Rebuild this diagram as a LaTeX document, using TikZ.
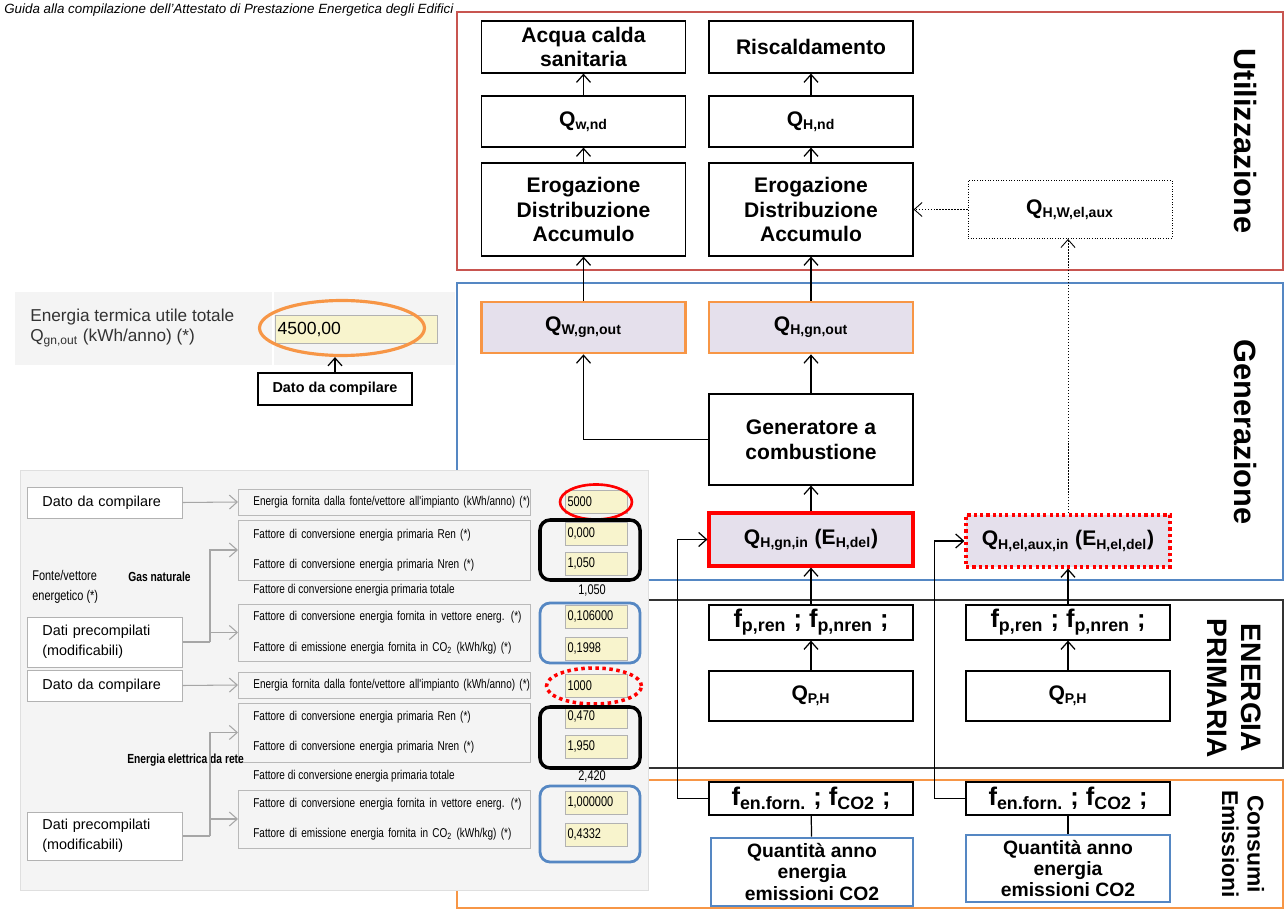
\documentclass[tikz,border=0pt]{standalone}
\usepackage{fontspec}
\setmainfont{Liberation Sans}
\newfontfamily\narrowfont[FakeStretch=0.78]{Liberation Sans}
\usetikzlibrary{arrows.meta,shapes.geometric}
\definecolor{rossoutil}{RGB}{200,85,80}
\definecolor{bluegen}{RGB}{85,135,195}
\definecolor{arancio}{RGB}{247,150,70}
\definecolor{lavanda}{RGB}{229,224,236}
\definecolor{giallino}{RGB}{248,244,205}
\definecolor{fondo}{RGB}{244,244,244}
\tikzstyle{blocco} = [draw=black, line width=0.7pt, fill=white, align=center, inner sep=1pt, minimum width=4.08cm, font=\bfseries\fontsize{12}{14}\selectfont]
\tikzstyle{viola} = [blocco, fill=lavanda]
\tikzstyle{uscita} = [viola, draw=arancio, line width=1.6pt]
\tikzstyle{ingresso} = [viola, draw=red, line width=1.8pt]
\tikzstyle{ingressoaux} = [viola, draw=red, line width=1.8pt, dash pattern=on 1.8pt off 1.8pt]
\tikzstyle{ausiliario} = [blocco, line width=0.5pt, densely dotted]
\tikzstyle{fattore} = [blocco, font=\bfseries\fontsize{14.5}{16}\selectfont]
\tikzstyle{primaria} = [blocco, line width=1.6pt]
\tikzstyle{quantita} = [blocco, draw=bluegen, line width=1.6pt, font=\bfseries\fontsize{11}{12.2}\selectfont]
\tikzstyle{freccia} = [-{Straight Barb[length=4.5pt,width=8pt]}, line width=0.7pt]
\tikzstyle{grigio} = [-{Straight Barb[length=4.5pt,width=8pt]}, draw=gray!70, line width=0.6pt]
\tikzstyle{campo} = [draw=gray!55, fill=fondo, anchor=west, align=left, inner xsep=0.3cm, inner ysep=0pt, text width=5.24cm, font=\narrowfont\fontsize{7.3}{17}\selectfont]
\tikzstyle{valore} = [draw=gray!60, fill=giallino, align=left, text width=1.14cm, inner xsep=0.05cm, inner ysep=0pt, minimum height=0.46cm, font=\narrowfont\fontsize{8}{9}\selectfont]
\tikzstyle{dato} = [draw=gray!60, fill=white, anchor=west, align=left, text width=2.5cm, inner xsep=0.3cm, inner ysep=0pt, font=\fontsize{8.2}{11.5}\selectfont]
\tikzstyle{testino} = [anchor=west, inner sep=0pt, font=\narrowfont\fontsize{7.3}{9}\selectfont]

\begin{document}
\begin{tikzpicture}[x=0.02cm, y=-0.02cm]
            \useasboundingbox (0,0) rectangle (1285,911);

            \draw[rossoutil, line width=1.1pt] (457,12) rectangle (1283,270);
            \draw[bluegen, line width=1.1pt] (457,283) rectangle (1283,580);
            \draw[black!80, line width=1.1pt] (457,600) rectangle (1283,768);
            \draw[arancio, line width=1.1pt] (457,780) rectangle (1283,908);

            \node (titolo) at(4,10) [anchor=west, inner sep=0pt, font=\itshape\fontsize{7.6}{9}\selectfont] {Guida alla compilazione dell'Attestato di Prestazione Energetica degli Edifici};

            \node (utilizzazione) at(1245,141) [rotate=-90, font=\bfseries\fontsize{17.5}{20}\selectfont] {Utilizzazione};
            \node (generazione) at(1245,432) [rotate=-90, font=\bfseries\fontsize{17.5}{20}\selectfont] {Generazione};
            \node (primaria) at(1234,688) [rotate=-90, align=center, font=\bfseries\fontsize{16}{19.5}\selectfont] {ENERGIA\\PRIMARIA};
            \node (consumi) at(1243,844) [rotate=-90, align=center, font=\bfseries\fontsize{13}{14.5}\selectfont] {Consumi\\Emissioni};

            \node (acqua) at(583.5,47) [blocco, minimum height=1.04cm] {Acqua calda\\sanitaria};
            \node (riscald) at(811,47) [blocco, minimum height=1.04cm] {Riscaldamento};
            \node (qwnd) at(583.5,121.5) [blocco, minimum height=1.02cm] {Q\textsubscript{w,nd}};
            \node (qhnd) at(811,121.5) [blocco, minimum height=1.02cm] {Q\textsubscript{H,nd}};
            \node (erogA) at(583.5,209.5) [blocco, minimum height=1.86cm] {Erogazione\\Distribuzione\\Accumulo};
            \node (erogB) at(811,209.5) [blocco, minimum height=1.86cm] {Erogazione\\Distribuzione\\Accumulo};
            \node (aux) at(1070,209.5) [ausiliario, minimum height=1.16cm] {Q\textsubscript{H,W,el,aux}};
            \node (qwout) at(583.5,327.5) [uscita, minimum height=1.02cm] {Q\textsubscript{W,gn,out}};
            \node (qhout) at(811,327.5) [uscita, minimum height=1.02cm] {Q\textsubscript{H,gn,out}};
            \node (gener) at(811,439.5) [blocco, minimum height=1.82cm] {Generatore a\\combustione};
            \node (qhin) at(811,539.5) [ingresso, minimum height=1.06cm] {Q\textsubscript{H,gn,in} (E\textsubscript{H,del})};
            \node (qhelin) at(1068,541) [ingressoaux, minimum height=1.04cm] {Q\textsubscript{H,el,aux,in} (E\textsubscript{H,el,del})};
            \node (fp1) at(811,622.5) [fattore, minimum height=0.7cm] {f\textsubscript{p,ren} ; f\textsubscript{p,nren} ;};
            \node (fp2) at(1068,622.5) [fattore, minimum height=0.7cm] {f\textsubscript{p,ren} ; f\textsubscript{p,nren} ;};
            \node (qph1) at(811,696) [primaria, minimum height=1cm] {Q\textsubscript{P,H}};
            \node (qph2) at(1068,696) [primaria, minimum height=1cm] {Q\textsubscript{P,H}};
            \node (fen1) at(811,798.5) [fattore, minimum height=0.66cm] {f\textsubscript{en.forn.} ; f\textsubscript{CO2} ;};
            \node (fen2) at(1068,798.5) [fattore, minimum height=0.66cm] {f\textsubscript{en.forn.} ; f\textsubscript{CO2} ;};
            \node (quant1) at(812,872) [quantita, minimum width=4.04cm, minimum height=1.36cm] {Quantità anno\\energia\\emissioni CO2};
            \node (quant2) at(1068,868.5) [quantita, minimum height=1.34cm] {Quantità anno\\energia\\emissioni CO2};

            \path 	(qwnd) edge[freccia] (acqua)
            		(qhnd) edge[freccia] (riscald)
            		(erogA) edge[freccia] (qwnd)
            		(erogB) edge[freccia] (qhnd)
            		(qwout) edge[freccia] (erogA)
            		(qhout) edge[freccia] (erogB)
            		(gener) edge[freccia] (qhout)
            		(qhin) edge[freccia] (gener)
            		(fp1) edge[freccia] (qhin)
            		(fp2) edge[freccia] (qhelin)
            		(qph1) edge[freccia] (fp1)
            		(qph2) edge[freccia] (fp2)
            		(quant1) edge[line width=0.7pt] (fen1)
            		(quant2) edge[line width=0.7pt] (fen2)
            		(aux) edge[freccia, densely dotted, line width=0.5pt] (erogB);
            \draw[freccia] (gener.west) -| (qwout.south);
            \draw[freccia, densely dotted, line width=0.5pt] (qhelin.north) -- (qhelin.north |- aux.south);
            \draw[freccia] (fen1.west) -- ++(-31,0) |- (qhin.west);
            \draw[freccia] (fen2.west) -- ++(-31,0) |- (qhelin.west);

            \fill[fondo] (15,292) rectangle (455,365);
            \draw[white, line width=1pt] (273,292) -- (273,365);
            \node (etichetta) at(30,328) [anchor=west, align=left, inner sep=0pt, text=black!80, font=\fontsize{9.8}{11.4}\selectfont] {Energia termica utile totale\\Q\textsubscript{gn,out} (kWh/anno) (*)};
            \node (campoQ) at(356,329) [valore, text width=3.14cm, minimum height=0.56cm, font=\fontsize{10}{12}\selectfont] {4500,00};
            \node (ovale) at(342,328) [ellipse, draw=arancio, line width=1.8pt, minimum width=3.3cm, minimum height=1.1cm] {};
            \node (datoQ) at(335,389) [draw, line width=0.7pt, minimum width=3.08cm, minimum height=0.64cm, font=\bfseries\fontsize{8.2}{10}\selectfont] {Dato da compilare};
            \draw[freccia] (datoQ.north) -- (datoQ.north |- ovale.south);

            \draw[gray!25, fill=fondo] (20,470) rectangle (648,890);

            \node (dato1) at(27,502.5) [dato, minimum height=0.62cm] {Dato da compilare};
            \node (campo1) at(238,502) [campo, minimum height=0.52cm] {\mbox{Energia fornita dalla fonte/vettore all'impianto (kWh/anno) (*)}};
            \node (val1) at(596,502) [valore] {5000};
            \node (ovale1) at(596,502) [ellipse, draw=red, line width=1.5pt, minimum width=1.44cm, minimum height=0.7cm] {};
            \node (gruppo1) at(238,550) [campo, minimum height=1.2cm] {\mbox{Fattore di conversione energia primaria Ren (*)}\\\mbox{Fattore di conversione energia primaria Nren (*)}};
            \node (val2) at(596,533.5) [valore] {0,000};
            \node (val3) at(596,563.5) [valore] {1,050};
            \draw[black, line width=2pt, rounded corners=0.2cm] (540,520) rectangle (640,580);
            \node (totale1) at(253,590) [testino] {Fattore di conversione energia primaria totale};
            \node (valtot1) at(578,590) [testino, font=\narrowfont\fontsize{8}{9}\selectfont] {1,050};
            \node (gruppo2) at(238,632.5) [campo, minimum height=1.14cm, font=\narrowfont\fontsize{7.3}{18}\selectfont] {\mbox{Fattore di conversione energia fornita in vettore energ. (*)}\\\mbox{Fattore di emissione energia fornita in CO\textsubscript{2} (kWh/kg) (*)}};
            \node (val4) at(596,616.5) [valore] {0,106000};
            \node (val5) at(596,648.5) [valore] {0,1998};
            \draw[bluegen, line width=1.6pt, rounded corners=0.2cm] (540,603) rectangle (640,663);
            \node (prec1) at(27,642) [dato, minimum height=1cm] {Dati precompilati\\(modificabili)};
            \node (fonte) at(32,587) [testino, align=left, font=\narrowfont\fontsize{8}{11.5}\selectfont] {Fonte/vettore\\energetico (*)};
            \node (gas) at(128,577) [testino, font=\narrowfont\bfseries\fontsize{7.5}{9}\selectfont] {Gas naturale};

            \node (dato2) at(27,685.5) [dato, minimum height=0.62cm] {Dato da compilare};
            \node (campo2) at(238,685) [campo, minimum height=0.52cm] {\mbox{Energia fornita dalla fonte/vettore all'impianto (kWh/anno) (*)}};
            \node (val6) at(596,685.5) [valore] {1000};
            \node (ovale2) at(594,686) [ellipse, draw=red, line width=2pt, dotted, minimum width=1.9cm, minimum height=0.72cm] {};
            \node (gruppo3) at(238,732.5) [campo, minimum height=1.18cm] {\mbox{Fattore di conversione energia primaria Ren (*)}\\\mbox{Fattore di conversione energia primaria Nren (*)}};
            \node (val7) at(596,716.5) [valore] {0,470};
            \node (val8) at(596,746.5) [valore] {1,950};
            \draw[black, line width=2pt, rounded corners=0.2cm] (540,707) rectangle (640,768);
            \node (totale2) at(253,776) [testino] {Fattore di conversione energia primaria totale};
            \node (valtot2) at(578,776) [testino, font=\narrowfont\fontsize{8}{9}\selectfont] {2,420};
            \node (gruppo4) at(238,819) [campo, minimum height=1.16cm] {\mbox{Fattore di conversione energia fornita in vettore energ. (*)}\\\mbox{Fattore di emissione energia fornita in CO\textsubscript{2} (kWh/kg) (*)}};
            \node (val9) at(596,802.5) [valore] {1,000000};
            \node (val10) at(596,834.5) [valore] {0,4332};
            \draw[bluegen, line width=1.6pt, rounded corners=0.2cm] (540,786) rectangle (640,862);
            \node (prec2) at(27,836) [dato, minimum height=0.96cm] {Dati precompilati\\(modificabili)};
            \node (elettr) at(127,760) [testino, font=\narrowfont\bfseries\fontsize{7.5}{9}\selectfont] {Energia elettrica da rete};

            \coordinate (snodo1) at(210,642);
            \coordinate (snodo2) at(210,836);
            \draw[grigio] (dato1.east) -- (campo1.west);
            \draw[grigio] (dato2.east) -- (campo2.west);
            \draw[gray!70, line width=0.6pt] (prec1.east) -- (snodo1);
            \draw[gray!70, line width=0.6pt] (prec2.east) -- (snodo2);
            \draw[grigio] (snodo1) |- (gruppo1.west);
            \draw[grigio] (snodo1 |- gruppo2.west) -- (gruppo2.west);
            \draw[grigio] (snodo2) |- (gruppo3.west);
            \draw[grigio] (snodo2 |- gruppo4.west) -- (gruppo4.west);

        \end{tikzpicture}
\end{document}
